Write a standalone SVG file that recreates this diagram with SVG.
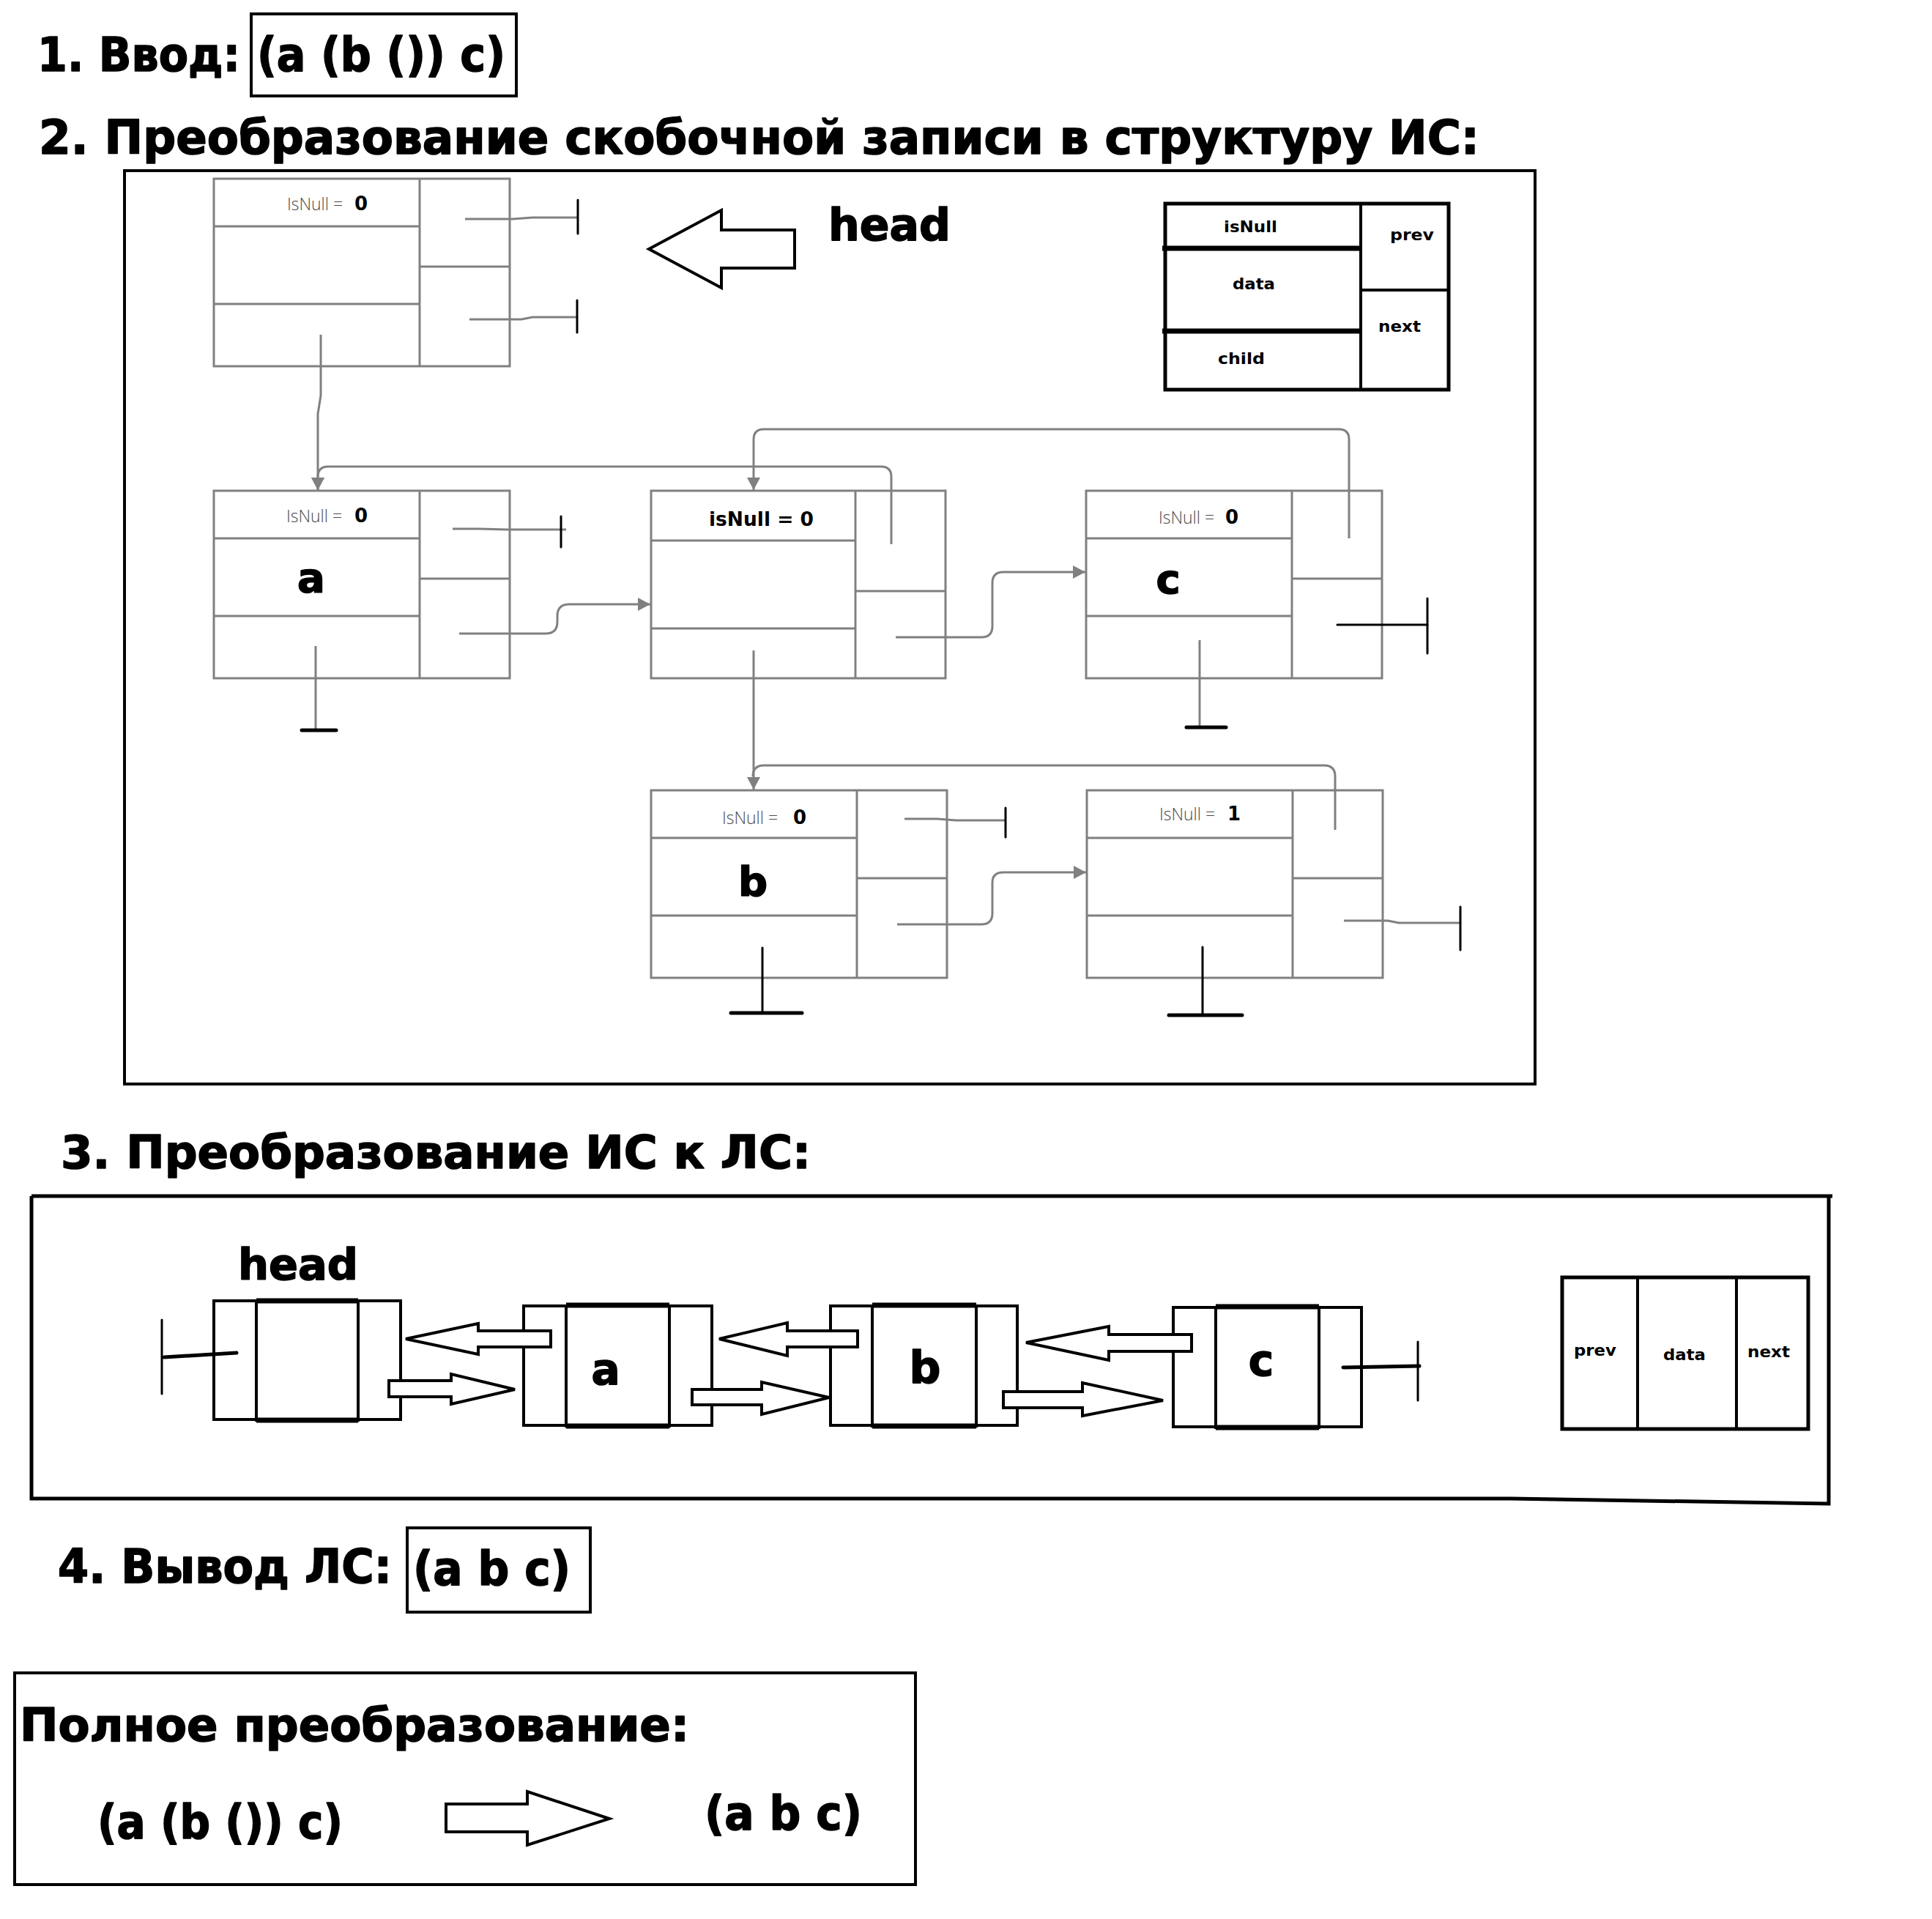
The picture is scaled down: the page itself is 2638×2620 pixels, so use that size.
<svg xmlns="http://www.w3.org/2000/svg" width="2638" height="2620" viewBox="0 0 2638 2620">
<style>
.h{font-family:"DejaVu Sans","Liberation Sans",sans-serif;font-weight:bold;fill:#000}
.hs{stroke:#000;stroke-width:1.6;stroke-linejoin:round}
.lbl{font-family:"Open Sans","Liberation Sans",sans-serif;font-weight:300;fill:#4a4a4a;font-size:24px}
.zero{font-family:"DejaVu Sans","Liberation Sans",sans-serif;font-weight:bold;fill:#000;font-size:26px}
.box{fill:none;stroke:#000;stroke-width:4}
.g{fill:none;stroke:#808080;stroke-width:3}
.gc{fill:none;stroke:#808080;stroke-width:3}
.bk{fill:none;stroke:#000;stroke-width:3;stroke-linecap:round}
.bk4{fill:none;stroke:#000;stroke-width:5;stroke-linecap:round}
.ls{fill:none;stroke:#000;stroke-width:4}
.lsm{fill:none;stroke:#000;stroke-width:7}
.harrow{fill:#fff;stroke:#000;stroke-width:4;stroke-linejoin:miter}
</style>
<defs>
<marker id="ga" markerUnits="userSpaceOnUse" markerWidth="20" markerHeight="18" refX="17" refY="9" orient="auto">
<path d="M0,0 L17,9 L0,18 Z" fill="#808080"/>
</marker>
<g id="nodeA" class="g">
<rect x="0" y="0" width="404" height="256"/>
<line x1="281" y1="0" x2="281" y2="256"/>
<line x1="0" y1="65" x2="281" y2="65"/>
<line x1="0" y1="171" x2="281" y2="171"/>
<line x1="281" y1="120" x2="404" y2="120"/>
</g>
</defs>
<rect width="2638" height="2620" fill="#fff"/>

<!-- Section 1 -->
<g id="title1">
<text class="h hs" x="51" y="97" font-size="64" textLength="277" lengthAdjust="spacingAndGlyphs">1. Ввод:</text>
<rect class="box" x="343" y="19" width="362" height="112"/>
<text class="h hs" x="351" y="97" font-size="64" textLength="339" lengthAdjust="spacingAndGlyphs">(a (b ()) c)</text>
</g>

<!-- Section 2 -->
<g id="title2">
<text class="h hs" x="53" y="210" font-size="64" textLength="1967" lengthAdjust="spacingAndGlyphs">2. Преобразование скобочной записи в структуру ИС:</text>
<rect class="box" x="170" y="233" width="1926" height="1247" stroke-width="5"/>
</g>

<g id="is-head">
<use href="#nodeA" x="292" y="244"/>
<text class="lbl" x="392" y="287" textLength="76" lengthAdjust="spacingAndGlyphs">IsNull =</text>
<text class="zero" x="484" y="287">0</text>
</g>
<g id="is-a">
<use href="#nodeA" x="292" y="670"/>
<text class="lbl" x="391" y="713" textLength="76" lengthAdjust="spacingAndGlyphs">IsNull =</text>
<text class="zero" x="484" y="713">0</text>
<text class="h hs" x="425" y="808" font-size="56" text-anchor="middle">a</text>
</g>
<g id="is-node2">
<g class="g">
<rect x="889" y="670" width="402" height="256"/>
<line x1="1168" y1="670" x2="1168" y2="926"/>
<line x1="889" y1="738" x2="1168" y2="738"/>
<line x1="889" y1="858" x2="1168" y2="858"/>
<line x1="1168" y1="807" x2="1291" y2="807"/>
</g>
<text class="h" x="968" y="718" font-size="27" textLength="143" lengthAdjust="spacingAndGlyphs">isNull = 0</text>
</g>
<g id="is-c">
<use href="#nodeA" x="1483" y="670"/>
<text class="lbl" x="1582" y="715" textLength="76" lengthAdjust="spacingAndGlyphs">IsNull =</text>
<text class="zero" x="1673" y="715">0</text>
<text class="h hs" x="1595" y="810" font-size="56" text-anchor="middle">c</text>
</g>
<g id="is-b">
<use href="#nodeA" x="889" y="1079"/>
<text class="lbl" x="986" y="1125" textLength="76" lengthAdjust="spacingAndGlyphs">IsNull =</text>
<text class="zero" x="1083" y="1125">0</text>
<text class="h hs" x="1028" y="1223" font-size="56" text-anchor="middle">b</text>
</g>
<g id="is-n1">
<use href="#nodeA" x="1484" y="1079"/>
<text class="lbl" x="1583" y="1120" textLength="76" lengthAdjust="spacingAndGlyphs">IsNull =</text>
<text class="zero" x="1676" y="1120">1</text>
</g>

<g id="head-arrow-is">
<polygon class="harrow" points="886,340 985,287 985,314 1085,314 1085,366 985,366 985,393"/>
<text class="h hs" x="1131" y="328" font-size="60" textLength="167" lengthAdjust="spacingAndGlyphs">head</text>
</g>

<g id="legend-is">
<rect x="1591" y="278" width="387" height="254" fill="none" stroke="#000" stroke-width="5"/>
<line x1="1858" y1="278" x2="1858" y2="532" stroke="#000" stroke-width="4"/>
<line x1="1587" y1="339" x2="1858" y2="339" stroke="#000" stroke-width="7"/>
<line x1="1587" y1="452" x2="1858" y2="452" stroke="#000" stroke-width="7"/>
<line x1="1858" y1="396" x2="1980" y2="396" stroke="#000" stroke-width="4"/>
<text class="h" x="1671" y="317" font-size="21" textLength="73" lengthAdjust="spacingAndGlyphs">isNull</text>
<text class="h" x="1898" y="328" font-size="21" textLength="60" lengthAdjust="spacingAndGlyphs">prev</text>
<text class="h" x="1683" y="395" font-size="21" textLength="58" lengthAdjust="spacingAndGlyphs">data</text>
<text class="h" x="1882" y="453" font-size="21" textLength="58" lengthAdjust="spacingAndGlyphs">next</text>
<text class="h" x="1663" y="497" font-size="21" textLength="64" lengthAdjust="spacingAndGlyphs">child</text>
</g>

<g id="connectors-is">
<path class="g" d="M635,299 L700,299 L727,297 L789,297"/>
<path class="bk" d="M789,273 V319"/>
<path class="g" d="M641,436 L712,436 L727,433 L789,433"/>
<path class="bk" d="M788,410 V454"/>
<path class="gc" d="M438,457 V540 L434,565 V669" marker-end="url(#ga)"/>
<path class="gc" d="M1217,743 V651 Q1217,637 1203,637 H448 Q434,637 434,651 V669" marker-end="url(#ga)"/>
<path class="g" d="M618,722 L655,722 L691,723 L773,723"/>
<path class="bk" d="M766,705 V747" stroke-width="2"/>
<path class="gc" d="M627,865 H745 Q761,865 761,849 V841 Q761,825 777,825 H888" marker-end="url(#ga)"/>
<path class="g" d="M431,882 V997"/>
<path class="bk4" d="M412,997 H459"/>
<path class="gc" d="M1842,735 V600 Q1842,586 1828,586 H1043 Q1029,586 1029,600 V669" marker-end="url(#ga)"/>
<path class="gc" d="M1223,870 H1340 Q1355,870 1355,855 V796 Q1355,781 1370,781 H1482" marker-end="url(#ga)"/>
<path class="gc" d="M1029,888 V1078" marker-end="url(#ga)"/>
<path class="bk" d="M1826,853 H1949" stroke-width="4"/>
<path class="bk" d="M1949,817 V892" stroke-width="4"/>
<path class="g" d="M1638,874 V993"/>
<path class="bk4" d="M1620,993 H1674"/>
<path class="g" d="M1235,1118 L1280,1118 L1305,1120 H1373"/>
<path class="bk" d="M1373,1103 V1143"/>
<path class="gc" d="M1225,1262 H1340 Q1355,1262 1355,1247 V1205 Q1355,1191 1370,1191 H1483" marker-end="url(#ga)"/>
<path class="bk" d="M1041,1294 V1383"/>
<path class="bk4" d="M998,1383 H1095"/>
<path class="g" d="M1823,1133 V1060 Q1823,1045 1808,1045 H1043 Q1028,1045 1028,1060"/>
<path class="g" d="M1835,1257 L1895,1257 L1910,1260 H1994"/>
<path class="bk" d="M1994,1238 V1297" stroke-width="4"/>
<path class="bk" d="M1642,1293 V1386"/>
<path class="bk4" d="M1596,1386 H1696"/>
</g>

<!-- Section 3 -->
<g id="title3">
<text class="h hs" x="83" y="1595" font-size="63" textLength="1024" lengthAdjust="spacingAndGlyphs">3. Преобразование ИС к ЛС:</text>
<path d="M43,1633 H2502 M2497,1633 V2053 L2063,2046 H43 V1633" fill="none" stroke="#000" stroke-width="5"/>
</g>

<g id="ls-head">
<text class="h hs" x="325" y="1747" font-size="59" textLength="164" lengthAdjust="spacingAndGlyphs">head</text>
<rect class="ls" x="292" y="1776" width="255" height="162"/>
<line class="ls" x1="350" y1="1774" x2="350" y2="1941"/>
<line class="ls" x1="489" y1="1774" x2="489" y2="1941"/>
<line class="lsm" x1="350" y1="1776" x2="489" y2="1776"/>
<line class="lsm" x1="350" y1="1939" x2="489" y2="1939"/>
</g>
<g id="ls-a">
<rect class="ls" x="715" y="1783" width="257" height="163"/>
<line class="ls" x1="773" y1="1781" x2="773" y2="1949"/>
<line class="ls" x1="914" y1="1781" x2="914" y2="1949"/>
<line class="lsm" x1="773" y1="1782" x2="914" y2="1782"/>
<line class="lsm" x1="773" y1="1947" x2="914" y2="1947"/>
<text class="h hs" x="827" y="1890" font-size="58" text-anchor="middle">a</text>
</g>
<g id="ls-b">
<rect class="ls" x="1134" y="1783" width="255" height="163"/>
<line class="ls" x1="1191" y1="1781" x2="1191" y2="1949"/>
<line class="ls" x1="1333" y1="1781" x2="1333" y2="1949"/>
<line class="lsm" x1="1191" y1="1782" x2="1333" y2="1782"/>
<line class="lsm" x1="1191" y1="1947" x2="1333" y2="1947"/>
<text class="h hs" x="1263" y="1888" font-size="60" text-anchor="middle">b</text>
</g>
<g id="ls-c">
<rect class="ls" x="1602" y="1785" width="257" height="163"/>
<line class="ls" x1="1660" y1="1783" x2="1660" y2="1951"/>
<line class="ls" x1="1801" y1="1783" x2="1801" y2="1951"/>
<line class="lsm" x1="1660" y1="1784" x2="1801" y2="1784"/>
<line class="lsm" x1="1660" y1="1949" x2="1801" y2="1949"/>
<text class="h hs" x="1722" y="1878" font-size="58" text-anchor="middle">c</text>
</g>

<g id="connectors-ls">
<path class="bk" d="M221,1802 V1903"/>
<path class="bk4" d="M224,1853 L323,1847" stroke-width="4"/>
<polygon class="harrow" points="554,1828 653,1807 653,1817 752,1817 752,1839 653,1839 653,1849"/>
<polygon class="harrow" points="531,1885 616,1885 616,1876 703,1897 616,1917 616,1907 531,1907"/>
<polygon class="harrow" points="982,1828 1075,1806 1075,1817 1171,1817 1171,1839 1075,1839 1075,1851"/>
<polygon class="harrow" points="945,1897 1040,1897 1040,1887 1132,1908 1040,1931 1040,1918 945,1918"/>
<polygon class="harrow" points="1401,1833 1514,1811 1514,1822 1627,1822 1627,1845 1514,1845 1514,1857"/>
<polygon class="harrow" points="1370,1900 1478,1900 1478,1888 1588,1912 1478,1933 1478,1922 1370,1922"/>
<path class="bk4" d="M1834,1867 L1938,1865"/>
<path class="bk" d="M1936,1832 V1912"/>
</g>

<g id="legend-ls">
<rect x="2133" y="1744" width="336" height="207" fill="none" stroke="#000" stroke-width="5"/>
<line x1="2236" y1="1744" x2="2236" y2="1951" stroke="#000" stroke-width="4"/>
<line x1="2371" y1="1744" x2="2371" y2="1951" stroke="#000" stroke-width="4"/>
<text class="h" x="2149" y="1851" font-size="22" textLength="58" lengthAdjust="spacingAndGlyphs">prev</text>
<text class="h" x="2271" y="1857" font-size="22" textLength="58" lengthAdjust="spacingAndGlyphs">data</text>
<text class="h" x="2386" y="1853" font-size="22" textLength="58" lengthAdjust="spacingAndGlyphs">next</text>
</g>

<!-- Section 4 -->
<g id="title4">
<text class="h hs" x="79" y="2161" font-size="64" textLength="456" lengthAdjust="spacingAndGlyphs">4. Вывод ЛС:</text>
<rect class="box" x="556" y="2086" width="250" height="115"/>
<text class="h hs" x="564" y="2164" font-size="64" textLength="215" lengthAdjust="spacingAndGlyphs">(a b c)</text>
</g>

<g id="summary">
<rect class="box" x="20" y="2284" width="1230" height="289"/>
<text class="h hs" x="27" y="2377" font-size="62" textLength="914" lengthAdjust="spacingAndGlyphs">Полное преобразование:</text>
<text class="h hs" x="133" y="2510" font-size="64" textLength="335" lengthAdjust="spacingAndGlyphs">(a (b ()) c)</text>
<polygon class="harrow" points="609,2463 720,2463 720,2446 832,2483 720,2519 720,2501 609,2501"/>
<text class="h hs" x="962" y="2498" font-size="64" textLength="215" lengthAdjust="spacingAndGlyphs">(a b c)</text>
</g>
</svg>
